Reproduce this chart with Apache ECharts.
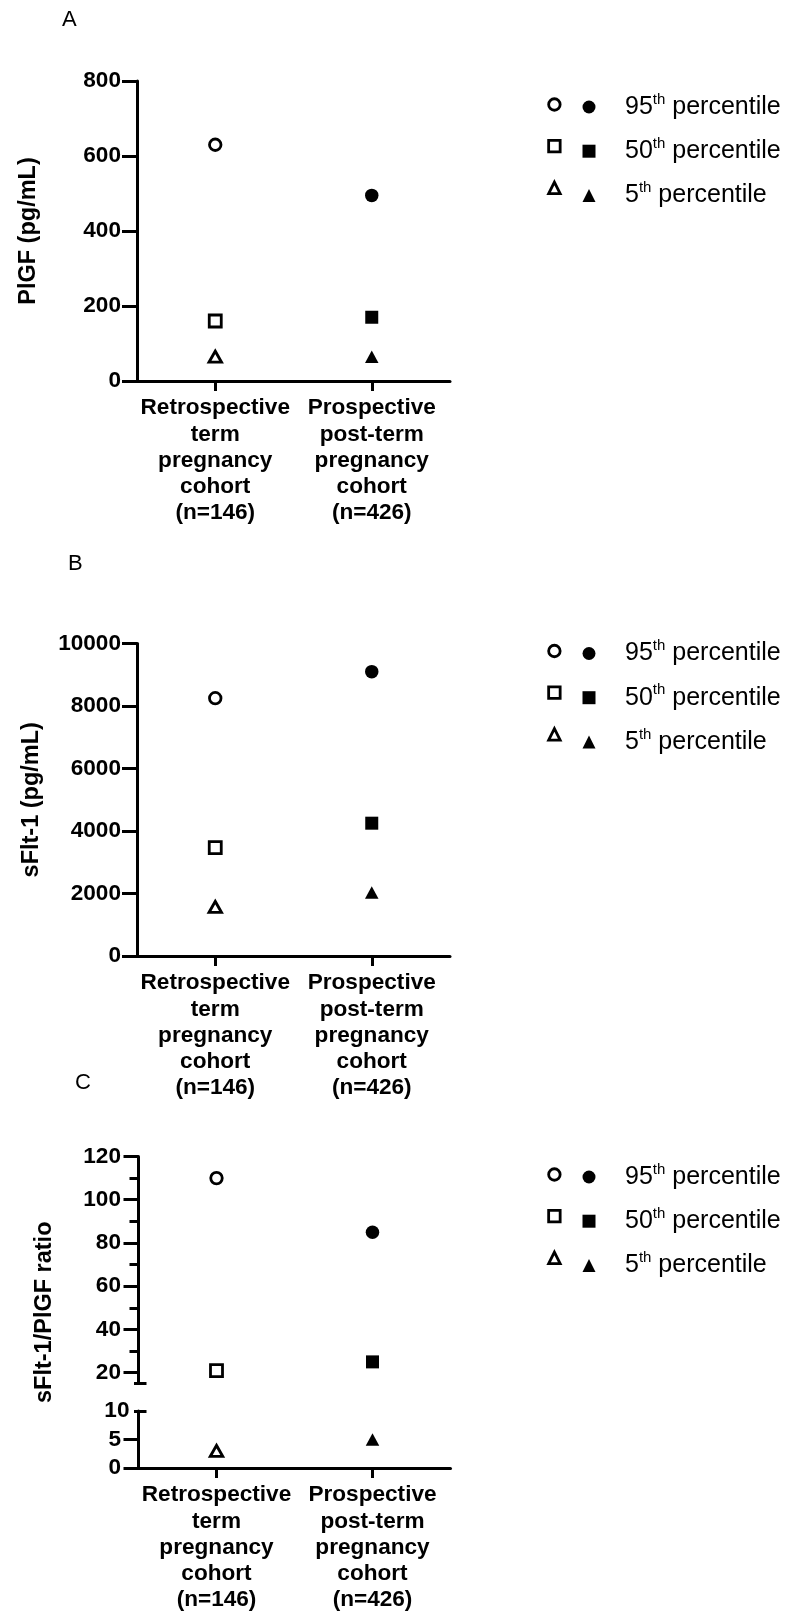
<!DOCTYPE html>
<html><head><meta charset="utf-8">
<script src="https://cdn.jsdelivr.net/npm/echarts@6/dist/echarts.min.js"></script>
<style>html,body{margin:0;padding:0;background:#fff}#c{width:786px;height:1617px}</style>
</head><body><div id="c"></div>
<script>
// ---------- data ----------
const categories = ['Retrospective\nterm\npregnancy\ncohort\n(n=146)', 'Prospective\npost-term\npregnancy\ncohort\n(n=426)'];
const percentiles = ['95', '50', '5'];
const plgfP95 = [630, 495];
const plgfP50 = [160, 170];
const plgfP5 = [65, 65];
const sfltP95 = [8250, 9100];
const sfltP50 = [3470, 4250];
const sfltP5 = [1570, 2030];
const ratioP95 = [110, 85];
const ratioP50 = [21, 25];
const ratioP5 = [3, 5];
const plgfAxis = [0, 800, 200];        // min, max, interval
const sfltAxis = [0, 10000, 2000];
const ratioUpperRange = [15, 120];
const ratioUpperTicks = [20, 40, 60, 80, 100, 120];
const ratioUpperMinorTicks = [30, 50, 70, 90, 110];
const ratioLowerRange = [0, 10];
const ratioLowerTicks = [0, 5];
const ratioLowerTop = [10];
const panelLetters = ['A', 'B', 'C'];
const yTitles = ['PlGF (pg/mL)', 'sFlt-1 (pg/mL)', 'sFlt-1/PlGF ratio'];

// ---------- style ----------
const FONT = '"Liberation Sans", Arial, Helvetica, sans-serif';
const BLACK = '#000';
const symbols = ['circle', 'rect', 'triangle'];
const openSizes = [11.5, 12, [12.5, 11]];
const filledSizes = [13.5, 13, [13.5, 12.5]];

const chart = echarts.init(document.getElementById('c'), null, {renderer: 'canvas'});

const grids = [
  {left: 137, top: 81, width: 313, height: 300},
  {left: 137, top: 643.5, width: 313, height: 312.5},
  {left: 138.5, top: 1156.5, width: 312, height: 227},
  {left: 138.5, top: 1411, width: 312, height: 57},
  {left: 138.5, top: 1156.5, width: 312, height: 311.5}
].map(g => Object.assign({outerBoundsMode: 'none', containLabel: false}, g));

function xAxis(gi, show) {
  return {
    type: 'category', gridIndex: gi, data: categories, boundaryGap: true, show: show,
    axisLine: {show: true, onZero: false, lineStyle: {color: BLACK, width: 3}},
    axisTick: {show: true, alignWithLabel: true, length: 10, lineStyle: {color: BLACK, width: 3}},
    axisLabel: {interval: 0, margin: 14, color: BLACK, fontFamily: FONT, fontWeight: 'bold', fontSize: 22.6, lineHeight: 26.25},
    splitLine: {show: false}
  };
}
const labelStyle = {color: BLACK, fontFamily: FONT, fontWeight: 'bold', fontSize: 22.6, formatter: v => String(v)};
const nameStyle = {color: BLACK, fontFamily: FONT, fontWeight: 'bold', fontSize: 23.5, lineHeight: 26};

function yAxis(gi, range, opts) {
  const o = {
    type: 'value', gridIndex: gi, position: 'left', offset: 0,
    min: range[0], max: range[1],
    axisLine: {show: opts.line !== false, onZero: false, lineStyle: {color: BLACK, width: 3}},
    axisTick: {show: !!opts.ticks, inside: !!opts.inside, length: opts.tickLen || 15, lineStyle: {color: BLACK, width: 3}},
    axisLabel: {show: !!opts.labels, margin: opts.margin || 16, ...labelStyle},
    splitLine: {show: false}
  };
  if (range[2] != null) o.interval = range[2];
  if (opts.ticks && opts.ticks !== true) o.axisTick.customValues = opts.ticks;
  if (opts.labels && opts.labels !== true) o.axisLabel.customValues = opts.labels;
  if (opts.name) {
    o.name = opts.name; o.nameLocation = 'middle'; o.nameGap = opts.nameGap; o.nameTextStyle = nameStyle;
  }
  return o;
}

const xAxes = [xAxis(0, true), xAxis(1, true), xAxis(2, false), xAxis(3, true), xAxis(4, false)];
const yAxes = [
  yAxis(0, plgfAxis, {ticks: true, labels: true, name: yTitles[0], nameGap: 95.5}),               // 0
  yAxis(1, sfltAxis, {ticks: true, labels: true, name: yTitles[1], nameGap: 92}),                 // 1
  yAxis(2, ratioUpperRange, {ticks: ratioUpperTicks, labels: ratioUpperTicks, margin: 17.5}),     // 2
  yAxis(2, ratioUpperRange, {line: false, ticks: ratioUpperMinorTicks, tickLen: 9}),              // 3
  yAxis(2, ratioUpperRange, {line: false, ticks: [ratioUpperRange[0]], tickLen: 4.5}),            // 4
  yAxis(2, ratioUpperRange, {line: false, ticks: [ratioUpperRange[0]], tickLen: 8, inside: true}),// 5
  yAxis(3, ratioLowerRange, {ticks: ratioLowerTicks, labels: ratioLowerTicks, margin: 17.5}),     // 6
  yAxis(3, ratioLowerRange, {line: false, ticks: ratioLowerTop, labels: ratioLowerTop, tickLen: 4.5, margin: 9}), // 7
  yAxis(3, ratioLowerRange, {line: false, ticks: ratioLowerTop, tickLen: 8, inside: true}),       // 8
  yAxis(4, [0, 1], {line: false, name: yTitles[2], nameGap: 81})                                   // 9
];

function pointSeries(idx, open, xi, yi, val) {
  const p = percentiles[idx];
  return {
    type: 'scatter',
    name: open ? 'Term ' + p + 'th percentile' : p + 'th percentile',
    xAxisIndex: xi, yAxisIndex: yi,
    symbol: symbols[idx],
    symbolSize: open ? openSizes[idx] : filledSizes[idx],
    itemStyle: open ? {color: '#fff', borderColor: BLACK, borderWidth: 2.8, opacity: 1}
                    : {color: BLACK, opacity: 1},
    data: [[categories[open ? 0 : 1], val]],
    silent: true, z: 5,
    emphasis: {disabled: true}
  };
}
const panels = [
  {vals: [plgfP95, plgfP50, plgfP5], axes: [[0, 0], [0, 0], [0, 0]]},
  {vals: [sfltP95, sfltP50, sfltP5], axes: [[1, 1], [1, 1], [1, 1]]},
  {vals: [ratioP95, ratioP50, ratioP5], axes: [[2, 2], [2, 2], [3, 6]]}
];
const series = [];
panels.forEach(pn => {
  pn.vals.forEach((arr, i) => {
    series.push(pointSeries(i, true, pn.axes[i][0], pn.axes[i][1], arr[0]));
    series.push(pointSeries(i, false, pn.axes[i][0], pn.axes[i][1], arr[1]));
  });
});

const legendTops = [92, 638.5, 1162];
const legends = [];
legendTops.forEach(t => {
  legends.push({
    data: percentiles.map(p => 'Term ' + p + 'th percentile'),
    orient: 'vertical', left: 547.25, top: t, padding: 0, itemGap: 16.7,
    itemWidth: 11.5, itemHeight: 11.5, selectedMode: false,
    itemStyle: {borderWidth: 2.8, borderColor: BLACK},
    formatter: () => '{e| }',
    textStyle: {color: BLACK, fontFamily: FONT, rich: {e: {fontSize: 25, lineHeight: 30, fontFamily: FONT}}}
  });
  legends.push({
    data: percentiles.map(p => p + 'th percentile'),
    orient: 'vertical', left: 582.5, top: t, padding: 0, itemGap: 16.7,
    itemWidth: 13, itemHeight: 13, selectedMode: false,
    formatter: name => '{g|' + name.replace('th percentile', '') + '}{s|th}{n| percentile}',
    textStyle: {
      color: BLACK, fontFamily: FONT,
      rich: {
        g: {fontSize: 25, lineHeight: 30, padding: [0, 0, 0, 24.5], color: BLACK, fontFamily: FONT},
        s: {fontSize: 15, lineHeight: 18, verticalAlign: 'top', color: BLACK, fontFamily: FONT},
        n: {fontSize: 25, lineHeight: 30, color: BLACK, fontFamily: FONT}
      }
    }
  });
});

const letterPos = [[62, 9], [68, 552.5], [75, 1072]];
const titles = panelLetters.map((l, i) => ({
  text: l, left: letterPos[i][0], top: letterPos[i][1], padding: 0,
  textStyle: {color: BLACK, fontFamily: FONT, fontWeight: 'normal', fontSize: 22, lineHeight: 22}
}));

chart.setOption({
  animation: false,
  backgroundColor: '#fff',
  title: titles,
  grid: grids,
  xAxis: xAxes,
  yAxis: yAxes,
  legend: legends,
  series: series
});
</script></body></html>
